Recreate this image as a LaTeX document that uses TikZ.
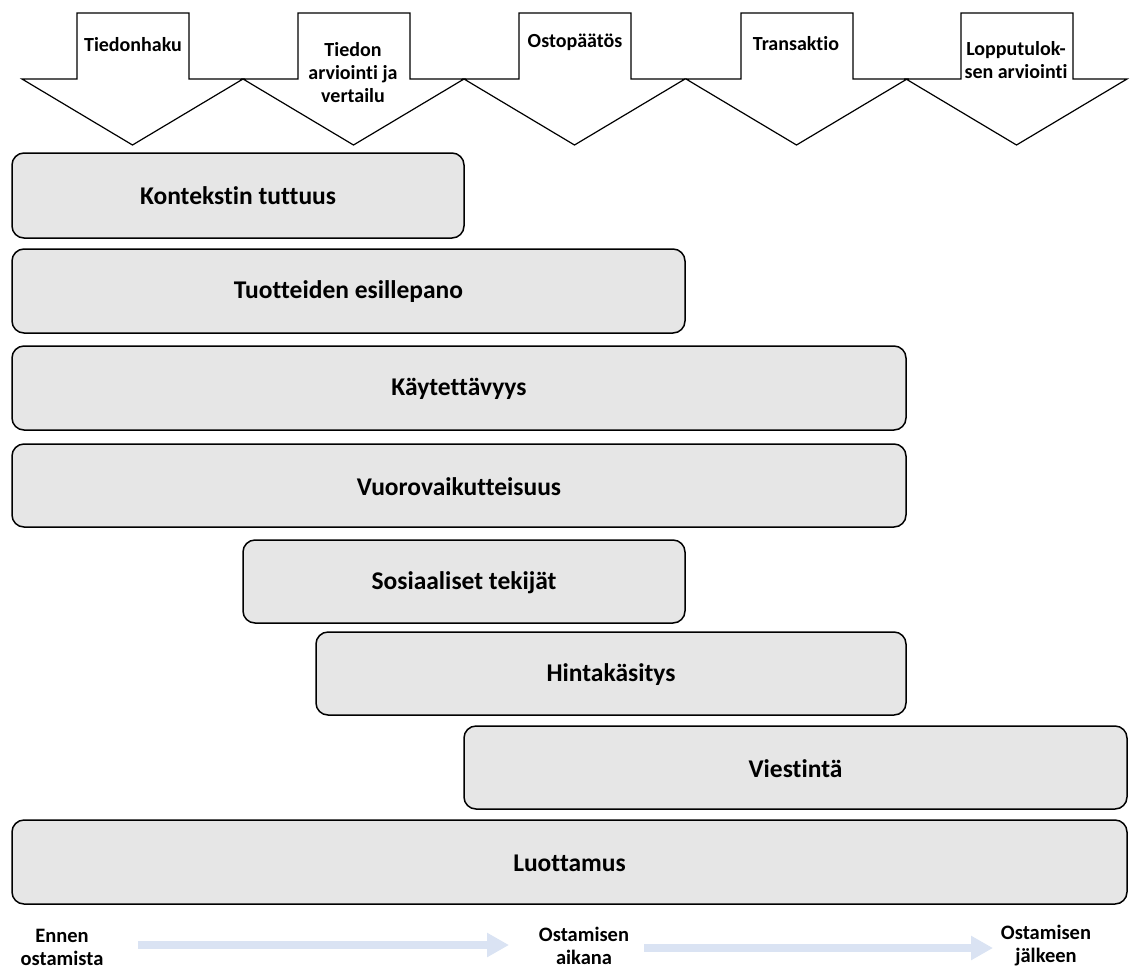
\documentclass[tikz,border=0pt]{standalone}
\usepackage{fontspec}
\setmainfont{Carlito}[RawFeature=-liga]
\usetikzlibrary{arrows.meta}
\definecolor{boxgray}{HTML}{E6E6E6}
\definecolor{flowblue}{HTML}{DAE3F3}

% Down-pointing stage arrow whose head starts at x = #1
\newcommand{\stagearrow}[1]{%
  \draw[stage] (#1,79) -- ++(55,0) -- ++(0,-66) -- ++(112,0) -- ++(0,66)
    -- (#1+221,79) -- (#1+110.5,145) -- cycle;}

\begin{document}
\begin{tikzpicture}[x=1pt,y=-1pt,
  stage/.style={draw=black, line width=1.2pt, fill=white, line join=miter},
  stagelabel/.style={font=\fontsize{20}{23}\selectfont\bfseries, align=center, inner sep=0pt},
  factor/.style={draw=black, line width=1.5pt, fill=boxgray, rounded corners=12pt},
  factorlabel/.style={font=\fontsize{25.5}{28}\selectfont\bfseries, inner sep=0pt},
  phase/.style={font=\fontsize{20.5}{23}\selectfont\bfseries, align=center, inner sep=0pt},
  flow/.style={draw=flowblue, line width=8pt, -{Triangle[length=22pt,width=23pt]}}
]
\useasboundingbox (0,0) rectangle (1135,970);

% Purchase process stages
\stagearrow{22}
\stagearrow{243}
\stagearrow{464}
\stagearrow{686}
\stagearrow{906}
\node[stagelabel] (s1) at (133,45) {Tiedonhaku};
\node[stagelabel] (s2) at (353,73) {Tiedon\\arviointi ja\\vertailu};
\node[stagelabel] (s3) at (575,42) {Ostopäätös};
\node[stagelabel] (s4) at (796,44) {Transaktio};
\node[stagelabel] (s5) at (1016,60) {Lopputulok-\\sen arviointi};

% Factors spanning the stages
\draw[factor] (12,153) rectangle (464,238);
\node[factorlabel] (f1) at (238,196) {Kontekstin tuttuus};
\draw[factor] (12,249) rectangle (685,333);
\node[factorlabel] (f2) at (348.5,292) {Tuotteiden esillepano};
\draw[factor] (12,346) rectangle (906,430);
\node[factorlabel] (f3) at (459,389) {Käytettävyys};
\draw[factor] (12,444) rectangle (906,527);
\node[factorlabel] (f4) at (459,486.5) {Vuorovaikutteisuus};
\draw[factor] (243,540) rectangle (685,623);
\node[factorlabel] (f5) at (464,582.5) {Sosiaaliset tekijät};
\draw[factor] (316,632) rectangle (906,715);
\node[factorlabel] (f6) at (611,674.5) {Hintakäsitys};
\draw[factor] (464,726) rectangle (1127,809);
\node[factorlabel] (f7) at (795.5,768.5) {Viestintä};
\draw[factor] (12,820) rectangle (1127,904);
\node[factorlabel] (f8) at (569.5,863) {Luottamus};

% Timeline
\node[phase] (p1) at (62,947) {Ennen\\ostamista};
\node[phase] (p2) at (584,946) {Ostamisen\\aikana};
\node[phase] (p3) at (1046,946) {Ostamisen\\jälkeen};
\coordinate (a1s) at (138,945);
\coordinate (a1e) at (509,945);
\coordinate (a2s) at (644,948);
\coordinate (a2e) at (993,948);
\draw[flow] (a1s) -- (a1e);
\draw[flow] (a2s) -- (a2e);
\end{tikzpicture}
\end{document}
